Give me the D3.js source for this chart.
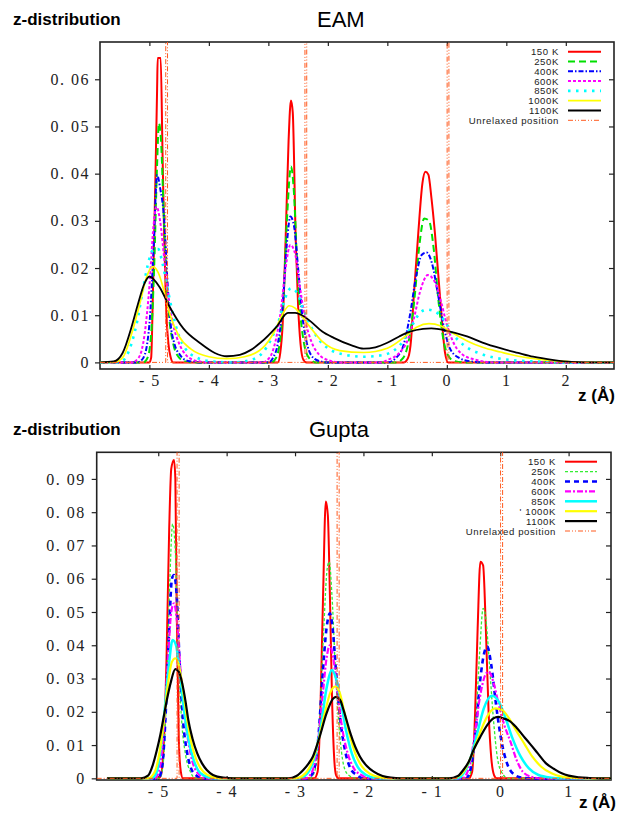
<!DOCTYPE html>
<html>
<head>
  <meta charset="utf-8">
  <title>z-distribution EAM / Gupta</title>
  <script src="https://d3js.org/d3.v7.min.js"></script>
  <style>
    body { margin: 0; background: #fff; }
    svg { display: block; }
    .title { font-family: "Liberation Sans", Arial, sans-serif; font-size: 22px; }
    .ylab { font-family: "Liberation Sans", Arial, sans-serif; font-size: 17px; font-weight: bold; }
    .tick-label { font-family: "Liberation Serif", "Times New Roman", serif; font-size: 16px; letter-spacing: 1.5px; fill: #222; }
    .legend text { font-family: "Liberation Sans", Arial, sans-serif; font-size: 9.6px; letter-spacing: 0.6px; fill: #222; }
    .frame { fill: none; stroke: #222; stroke-width: 1.6; }
    .curve { fill: none; stroke-linejoin: round; }
  </style>
</head>
<body>
  <svg id="chart" width="628" height="813"></svg>

  <script>
    // Legend labels
    const eamLabels = ["150 K", "250K", "400K", "600K", "850K", "1000K", "1100K"];
    const guptaLabels = ["150 K", "250K", "400K", "600K", "850K", "' 1000K", "1100K"];
    const unrelaxedLabel = "Unrelaxed position";

    // Unrelaxed layer positions (Å)
    const unrelaxedZ = [-4.71, -2.37, 0.02];

    // Tick values
    const eamXTicks = [-5, -4, -3, -2, -1, 0, 1, 2];
    const eamYTicks = [0, 0.01, 0.02, 0.03, 0.04, 0.05, 0.06];
    const guptaXTicks = [-5, -4, -3, -2, -1, 0, 1];
    const guptaYTicks = [0, 0.01, 0.02, 0.03, 0.04, 0.05, 0.06, 0.07, 0.08, 0.09];

    // EAM series [z, value]
    const eam150 = [[-5.83,0],[-5.0,0],[-4.97,0.001],[-4.94,0.015],[-4.90,0.038],[-4.87,0.058],[-4.86,0.0645],[-4.81,0.0645],[-4.78,0.045],[-4.75,0.026],[-4.72,0.012],[-4.68,0.004],[-4.64,0.001],[-4.60,0],
      [-2.84,0],[-2.80,0.002],[-2.76,0.008],[-2.71,0.026],[-2.66,0.047],[-2.62,0.0555],[-2.59,0.053],[-2.54,0.026],[-2.50,0.012],[-2.46,0.004],[-2.41,0.0005],[-2.36,0],
      [-0.72,0],[-0.65,0.001],[-0.60,0.005],[-0.56,0.0132],[-0.48,0.0274],[-0.41,0.038],[-0.36,0.0404],[-0.31,0.0398],[-0.26,0.035],[-0.20,0.0274],[-0.11,0.0132],[-0.03,0.002],[0.02,0],[2.81,0]];
    const eam250 = [[-5.83,0],[-5.1,0],[-5.03,0.001],[-4.97,0.006],[-4.92,0.02],[-4.87,0.042],[-4.84,0.0507],[-4.80,0.046],[-4.76,0.032],[-4.72,0.02],[-4.67,0.01],[-4.6,0.004],[-4.5,0.001],[-4.4,0.0002],[-4.2,0],
      [-2.95,0],[-2.87,0.001],[-2.8,0.005],[-2.74,0.015],[-2.68,0.032],[-2.62,0.0415],[-2.57,0.036],[-2.52,0.022],[-2.46,0.01],[-2.4,0.004],[-2.32,0.001],[-2.2,0],
      [-0.85,0],[-0.73,0.001],[-0.62,0.006],[-0.54,0.014],[-0.46,0.025],[-0.38,0.0305],[-0.3,0.03],[-0.22,0.024],[-0.14,0.013],[-0.06,0.005],[0.02,0.0015],[0.12,0.0003],[0.3,0],[2.81,0]];
    const eam400 = [[-5.83,0],[-5.2,0],[-5.1,0.001],[-5.0,0.008],[-4.93,0.024],[-4.87,0.0397],[-4.82,0.037],[-4.75,0.03],[-4.7,0.018],[-4.65,0.009],[-4.58,0.004],[-4.48,0.0015],[-4.35,0.0003],[-4.1,0],
      [-3.0,0],[-2.92,0.001],[-2.84,0.004],[-2.76,0.012],[-2.69,0.025],[-2.63,0.0309],[-2.57,0.029],[-2.5,0.02],[-2.43,0.01],[-2.36,0.0045],[-2.28,0.0015],[-2.15,0.0003],[-2.0,0],
      [-1.0,0],[-0.85,0.001],[-0.72,0.004],[-0.62,0.01],[-0.52,0.018],[-0.42,0.0228],[-0.34,0.0233],[-0.25,0.021],[-0.15,0.0145],[-0.05,0.0075],[0.05,0.003],[0.2,0.001],[0.4,0.0002],[0.6,0],[2.81,0]];
    const eam600 = [[-5.83,0],[-5.3,0],[-5.18,0.001],[-5.08,0.006],[-5.0,0.016],[-4.93,0.029],[-4.88,0.033],[-4.82,0.03],[-4.75,0.022],[-4.68,0.014],[-4.6,0.008],[-4.5,0.004],[-4.38,0.0015],[-4.2,0.0003],[-4.0,0],
      [-3.1,0],[-2.98,0.001],[-2.88,0.0045],[-2.79,0.011],[-2.71,0.02],[-2.63,0.0249],[-2.55,0.023],[-2.47,0.016],[-2.38,0.009],[-2.28,0.0045],[-2.15,0.0017],[-2.0,0.0005],[-1.8,0],
      [-1.1,0],[-1.0,0.0005],[-0.8,0.002],[-0.65,0.005],[-0.55,0.0095],[-0.45,0.015],[-0.32,0.0185],[-0.2,0.017],[-0.1,0.013],[0.0,0.008],[0.1,0.0045],[0.25,0.0018],[0.5,0.0005],[0.8,0],[2.81,0]];
    const eam850 = [[-5.83,0],[-5.5,0],[-5.4,0.001],[-5.3,0.004],[-5.2,0.009],[-5.1,0.016],[-5.0,0.022],[-4.92,0.024],[-4.85,0.024],[-4.78,0.021],[-4.7,0.016],[-4.6,0.01],[-4.5,0.0055],[-4.4,0.003],[-4.2,0.001],[-4.0,0.0003],[-3.6,0],
      [-3.3,0.0005],[-3.1,0.002],[-2.95,0.005],[-2.82,0.009],[-2.72,0.0135],[-2.62,0.0157],[-2.52,0.0148],[-2.42,0.0115],[-2.3,0.008],[-2.15,0.0048],[-2.0,0.003],[-1.7,0.0016],[-1.4,0.0012],
      [-1.1,0.0015],[-0.8,0.0035],[-0.6,0.0075],[-0.45,0.0105],[-0.34,0.0112],[-0.2,0.0108],[-0.05,0.009],[0.1,0.006],[0.3,0.0035],[0.6,0.0017],[1.0,0.0006],[1.5,0.0002],[2.0,0],[2.81,0]];
    const eam1000 = [[-5.83,0],[-5.6,0],[-5.45,0.001],[-5.3,0.006],[-5.15,0.013],[-5.05,0.018],[-4.94,0.0203],[-4.85,0.019],[-4.75,0.015],[-4.65,0.010],[-4.5,0.0055],[-4.3,0.0028],[-4.0,0.0012],[-3.7,0.0008],
      [-3.4,0.0012],[-3.1,0.003],[-2.9,0.0065],[-2.75,0.0105],[-2.65,0.012],[-2.55,0.0115],[-2.45,0.010],[-2.3,0.0075],[-2.1,0.0045],[-1.8,0.0025],[-1.4,0.0021],
      [-1.0,0.003],[-0.7,0.0055],[-0.5,0.0075],[-0.3,0.0082],[-0.1,0.0077],[0.1,0.0062],[0.35,0.0045],[0.6,0.0032],[0.9,0.0022],[1.2,0.0013],[1.6,0.0006],[2.0,0.0002],[2.3,0],[2.81,0]];
    const eam1100 = [[-5.83,0],[-5.6,0.0002],[-5.45,0.002],[-5.3,0.0075],[-5.2,0.012],[-5.08,0.0168],[-5.0,0.0182],[-4.92,0.0175],[-4.83,0.016],[-4.66,0.0118],[-4.43,0.0072],[-4.15,0.0041],[-3.9,0.002],[-3.7,0.0013],
      [-3.48,0.0016],[-3.3,0.0026],[-3.14,0.0041],[-2.86,0.0076],[-2.67,0.0105],[-2.55,0.0105],[-2.47,0.0102],[-2.3,0.0088],[-2.1,0.0066],[-1.9,0.0052],[-1.6,0.0036],[-1.4,0.0029],
      [-1.2,0.0032],[-1.01,0.0041],[-0.8,0.0055],[-0.62,0.0065],[-0.4,0.0071],[-0.26,0.0072],[0.0,0.0067],[0.34,0.0055],[0.6,0.0042],[0.9,0.003],[1.2,0.002],[1.45,0.0012],[1.8,0.0005],[2.1,0.0001],[2.3,0],[2.81,0]];

    // Gupta series [z, value]
    const gup150 = [[-5.75,0],[-5.0,0],[-4.96,0.001],[-4.92,0.01],[-4.88,0.035],[-4.84,0.075],[-4.81,0.093],[-4.77,0.0957],[-4.75,0.09],[-4.73,0.05],[-4.70,0.012],[-4.67,0.002],[-4.64,0],
      [-2.72,0],[-2.67,0.002],[-2.63,0.02],[-2.59,0.055],[-2.55,0.0832],[-2.52,0.079],[-2.49,0.055],[-2.46,0.025],[-2.43,0.007],[-2.40,0.001],[-2.36,0],
      [-0.46,0],[-0.41,0.002],[-0.37,0.018],[-0.33,0.045],[-0.29,0.0651],[-0.25,0.064],[-0.21,0.045],[-0.17,0.02],[-0.13,0.006],[-0.09,0.001],[-0.05,0],[1.62,0]];
    const gup250 = [[-5.75,0],[-4.98,0],[-4.93,0.004],[-4.88,0.025],[-4.83,0.06],[-4.79,0.0765],[-4.75,0.068],[-4.71,0.04],[-4.66,0.018],[-4.6,0.007],[-4.53,0.002],[-4.45,0],
      [-2.78,0],[-2.7,0.003],[-2.64,0.018],[-2.58,0.045],[-2.53,0.063],[-2.5,0.0651],[-2.46,0.055],[-2.41,0.033],[-2.35,0.014],[-2.29,0.004],[-2.22,0.001],[-2.1,0],
      [-0.48,0],[-0.42,0.003],[-0.36,0.016],[-0.3,0.038],[-0.25,0.0511],[-0.21,0.048],[-0.16,0.035],[-0.1,0.018],[-0.04,0.006],[0.03,0.0015],[0.12,0],[1.62,0]];
    const gup400 = [[-5.75,0],[-5.0,0],[-4.94,0.004],[-4.89,0.02],[-4.84,0.045],[-4.80,0.06],[-4.77,0.0611],[-4.73,0.055],[-4.69,0.036],[-4.64,0.018],[-4.58,0.008],[-4.52,0.003],[-4.44,0.0008],[-4.35,0],
      [-2.82,0],[-2.73,0.002],[-2.66,0.012],[-2.6,0.03],[-2.54,0.045],[-2.49,0.0496],[-2.45,0.045],[-2.4,0.032],[-2.34,0.018],[-2.27,0.0085],[-2.19,0.003],[-2.1,0.001],[-2.0,0],
      [-0.5,0],[-0.43,0.003],[-0.36,0.014],[-0.29,0.03],[-0.23,0.038],[-0.19,0.0396],[-0.13,0.034],[-0.06,0.022],[0.02,0.011],[0.1,0.0045],[0.2,0.0012],[0.32,0.0002],[0.45,0],[1.62,0]];
    const gup600 = [[-5.75,0],[-5.05,0],[-4.98,0.003],[-4.92,0.015],[-4.86,0.035],[-4.81,0.05],[-4.77,0.0526],[-4.73,0.048],[-4.68,0.034],[-4.62,0.02],[-4.56,0.011],[-4.5,0.005],[-4.42,0.0015],[-4.3,0],
      [-2.85,0],[-2.75,0.002],[-2.67,0.01],[-2.6,0.024],[-2.54,0.036],[-2.49,0.040],[-2.44,0.036],[-2.38,0.026],[-2.31,0.015],[-2.23,0.0075],[-2.14,0.003],[-2.03,0.001],[-1.9,0],
      [-0.55,0],[-0.46,0.003],[-0.38,0.012],[-0.3,0.024],[-0.22,0.031],[-0.17,0.0321],[-0.1,0.029],[-0.02,0.022],[0.06,0.016],[0.15,0.011],[0.24,0.0055],[0.33,0.002],[0.45,0.0005],[0.6,0],[1.62,0]];
    const gup850 = [[-5.75,0],[-5.1,0],[-5.02,0.002],[-4.96,0.01],[-4.9,0.022],[-4.84,0.035],[-4.79,0.0416],[-4.74,0.040],[-4.68,0.031],[-4.62,0.02],[-4.56,0.012],[-4.49,0.006],[-4.42,0.0025],[-4.33,0.0008],[-4.2,0],
      [-2.95,0],[-2.82,0.0015],[-2.72,0.006],[-2.62,0.016],[-2.54,0.027],[-2.46,0.0326],[-2.40,0.03],[-2.33,0.023],[-2.25,0.014],[-2.17,0.0075],[-2.08,0.0033],[-1.96,0.001],[-1.8,0],
      [-0.62,0],[-0.52,0.002],[-0.42,0.007],[-0.33,0.014],[-0.24,0.021],[-0.12,0.0248],[-0.02,0.023],[0.08,0.018],[0.18,0.012],[0.3,0.0065],[0.42,0.003],[0.56,0.001],[0.75,0.0002],[0.9,0],[1.62,0]];
    const gup1000 = [[-5.75,0],[-5.15,0],[-5.05,0.002],[-4.98,0.008],[-4.92,0.017],[-4.86,0.028],[-4.80,0.035],[-4.75,0.0361],[-4.70,0.034],[-4.64,0.027],[-4.58,0.018],[-4.52,0.011],[-4.45,0.006],[-4.38,0.003],[-4.28,0.001],[-4.1,0],
      [-3.0,0],[-2.85,0.0015],[-2.75,0.005],[-2.65,0.012],[-2.56,0.02],[-2.48,0.026],[-2.41,0.0276],[-2.35,0.026],[-2.28,0.02],[-2.2,0.013],[-2.12,0.0075],[-2.02,0.0035],[-1.9,0.0013],[-1.75,0.0003],[-1.6,0],
      [-0.7,0],[-0.58,0.001],[-0.48,0.004],[-0.38,0.009],[-0.28,0.0145],[-0.18,0.019],[-0.07,0.021],[0.03,0.0205],[0.13,0.018],[0.23,0.0145],[0.35,0.0105],[0.47,0.0065],[0.6,0.0035],[0.75,0.0015],[0.9,0.0005],[1.1,0.0001],[1.3,0],[1.62,0]];
    const gup1100 = [[-5.75,0],[-5.25,0],[-5.15,0.0008],[-5.08,0.004],[-5.02,0.0085],[-4.97,0.013],[-4.92,0.0185],[-4.87,0.024],[-4.82,0.0286],[-4.75,0.0328],[-4.70,0.032],[-4.65,0.0286],[-4.60,0.023],[-4.56,0.0175],[-4.50,0.012],[-4.43,0.0075],[-4.36,0.0045],[-4.29,0.0025],[-4.2,0.001],[-4.05,0.0002],[-3.9,0],
      [-3.1,0],[-2.98,0.0007],[-2.88,0.0025],[-2.80,0.0045],[-2.74,0.0065],[-2.64,0.0125],[-2.54,0.0195],[-2.45,0.0238],[-2.40,0.0245],[-2.34,0.0235],[-2.29,0.0205],[-2.24,0.017],[-2.19,0.0135],[-2.12,0.0095],[-2.05,0.0065],[-1.95,0.0037],[-1.85,0.002],[-1.72,0.0007],[-1.6,0.0002],[-1.45,0],
      [-0.75,0],[-0.62,0.0007],[-0.54,0.0025],[-0.46,0.005],[-0.39,0.0085],[-0.29,0.0125],[-0.19,0.016],[-0.1,0.018],[-0.03,0.0185],[0.05,0.018],[0.14,0.0172],[0.24,0.0152],[0.36,0.0122],[0.43,0.0105],[0.55,0.0075],[0.67,0.0045],[0.79,0.0028],[0.9,0.0015],[1.0,0.0008],[1.15,0.0003],[1.3,0.0001],[1.45,0],[1.62,0]];

    // Styles for each temperature (top panel, bottom panel)
    const eamStyles = [
      { color: "#ff0000", width: 2, dash: null },
      { color: "#00e000", width: 2, dash: "7,4" },
      { color: "#0000ff", width: 2, dash: "5,2,1.5,2" },
      { color: "#ff00ff", width: 2, dash: "3,2" },
      { color: "#00ffff", width: 2.6, dash: "2.5,5.5" },
      { color: "#ffff00", width: 1.7, dash: null },
      { color: "#000000", width: 1.8, dash: null },
    ];
    const guptaStyles = [
      { color: "#ff0000", width: 2, dash: null },
      { color: "#33ee33", width: 1.3, dash: "3,2" },
      { color: "#0000ff", width: 2.6, dash: "5,4" },
      { color: "#ff00ff", width: 2.2, dash: "6,2,2,2" },
      { color: "#00ffff", width: 2.5, dash: null },
      { color: "#ffff00", width: 2.2, dash: null },
      { color: "#000000", width: 2.2, dash: null },
    ];
    const unrelaxedStyle = { color: "#ff5a1f", width: 1, dash: "5,2,1,2,1,2" };

    const svg = d3.select("#chart");

    function drawPanel(p) {
      const x = d3.scaleLinear().domain(p.xDomain).range([p.left, p.right]);
      const y = d3.scaleLinear().domain(p.yDomain).range([p.bottom, p.top]);
      const g = svg.append("g");

      const clipId = "clip-" + p.id;
      svg.append("clipPath").attr("id", clipId)
        .append("rect")
        .attr("x", p.left).attr("y", p.top)
        .attr("width", p.right - p.left).attr("height", p.bottom - p.top);

      // axes: left outward ticks, others inward
      const fmtY = d => d === 0 ? "0" : "0. 0" + Math.round(d * 100);
      const fmtX = d => d < 0 ? "- " + (-d) : String(d);

      const left = g.append("g").attr("transform", `translate(${p.left},0)`)
        .call(d3.axisLeft(y).tickValues(p.yTicks).tickSize(5).tickPadding(p.yPad).tickFormat(fmtY));
      const bottom = g.append("g").attr("transform", `translate(0,${p.bottom})`)
        .call(d3.axisBottom(x).tickValues(p.xTicks).tickSize(-4).tickPadding(p.xPad).tickFormat(fmtX));
      const right = g.append("g").attr("transform", `translate(${p.right},0)`)
        .call(d3.axisRight(y).tickValues(p.yTicks).tickSize(-5).tickFormat(""));
      const topAx = g.append("g").attr("transform", `translate(0,${p.top})`)
        .call(d3.axisTop(x).tickValues(p.xTicks).tickSize(-4).tickFormat(""));
      [left, bottom, right, topAx].forEach(a => {
        a.select(".domain").remove();
        a.selectAll(".tick line").attr("stroke", "#222").attr("stroke-width", 1.2);
      });
      left.selectAll(".tick text").attr("class", "tick-label").attr("font-family", null).attr("font-size", null);
      bottom.selectAll(".tick text").attr("class", "tick-label").attr("font-family", null).attr("font-size", null);

      g.append("rect").attr("class", "frame")
        .attr("x", p.left).attr("y", p.top)
        .attr("width", p.right - p.left).attr("height", p.bottom - p.top);

      const line = d3.line().x(d => x(d[0])).y(d => y(d[1])).curve(d3.curveMonotoneX);
      const plot = g.append("g").attr("clip-path", `url(#${clipId})`);

      p.series.forEach((s, i) => {
        const st = p.styles[i];
        plot.append("path").datum(s).attr("class", "curve")
          .attr("d", line)
          .attr("stroke", st.color).attr("stroke-width", st.width)
          .attr("stroke-dasharray", st.dash);
      });

      // unrelaxed positions: baseline with narrow spikes
      const spikeTop = p.yDomain[1] * 2;
      const half = 0.015;
      const uPts = [[p.xDomain[0], 0]];
      unrelaxedZ.forEach(z => {
        uPts.push([z - half, 0], [z - half, spikeTop], [z + half, spikeTop], [z + half, 0]);
      });
      uPts.push([p.xDomain[1], 0]);
      plot.append("path").datum(uPts).attr("class", "curve")
        .attr("d", d3.line().x(d => x(d[0])).y(d => y(d[1])))
        .attr("stroke", unrelaxedStyle.color).attr("stroke-width", unrelaxedStyle.width)
        .attr("stroke-dasharray", unrelaxedStyle.dash);

      // legend
      const lg = g.append("g").attr("class", "legend");
      const items = p.labels.map((l, i) => ({ label: l, style: p.styles[i] }))
        .concat([{ label: unrelaxedLabel, style: unrelaxedStyle }]);
      items.forEach((it, i) => {
        const cy = p.legY + i * p.legStep;
        lg.append("text").attr("x", p.legTextX).attr("y", cy + 3.5)
          .attr("text-anchor", "end").text(it.label);
        lg.append("line").attr("x1", p.legX1).attr("x2", p.legX2)
          .attr("y1", cy).attr("y2", cy)
          .attr("stroke", it.style.color).attr("stroke-width", it.style.width)
          .attr("stroke-dasharray", it.style.dash);
      });

      svg.append("text").attr("class", "ylab").attr("x", 13).attr("y", p.labelY).text("z-distribution");
      svg.append("text").attr("class", "title").attr("x", p.titleX).attr("y", p.titleY).text(p.title);
      svg.append("text").attr("class", "ylab").attr("x", p.zLabX).attr("y", p.zLabY).text("z (Å)");
    }

    drawPanel({
      id: "eam", title: "EAM",
      left: 100, right: 614, top: 42, bottom: 369,
      xDomain: [-5.83, 2.81], yDomain: [-0.0014, 0.0679],
      xTicks: eamXTicks, yTicks: eamYTicks, xPad: 6, yPad: 5,
      series: [eam150, eam250, eam400, eam600, eam850, eam1000, eam1100],
      styles: eamStyles, labels: eamLabels,
      legY: 51.7, legStep: 9.8, legTextX: 559, legX1: 568, legX2: 601,
      labelY: 25, titleX: 317, titleY: 27, zLabX: 578, zLabY: 401
    });

    drawPanel({
      id: "gupta", title: "Gupta",
      left: 96.7, right: 611, top: 452.3, bottom: 780,
      xDomain: [-5.9, 1.62], yDomain: [-0.0005, 0.098],
      xTicks: guptaXTicks, yTicks: guptaYTicks, xPad: 6, yPad: 6,
      series: [gup150, gup250, gup400, gup600, gup850, gup1000, gup1100],
      styles: guptaStyles, labels: guptaLabels,
      legY: 461.7, legStep: 9.9, legTextX: 556, legX1: 565, legX2: 597,
      labelY: 435, titleX: 309, titleY: 437, zLabX: 579, zLabY: 808
    });
  </script>
</body>
</html>
